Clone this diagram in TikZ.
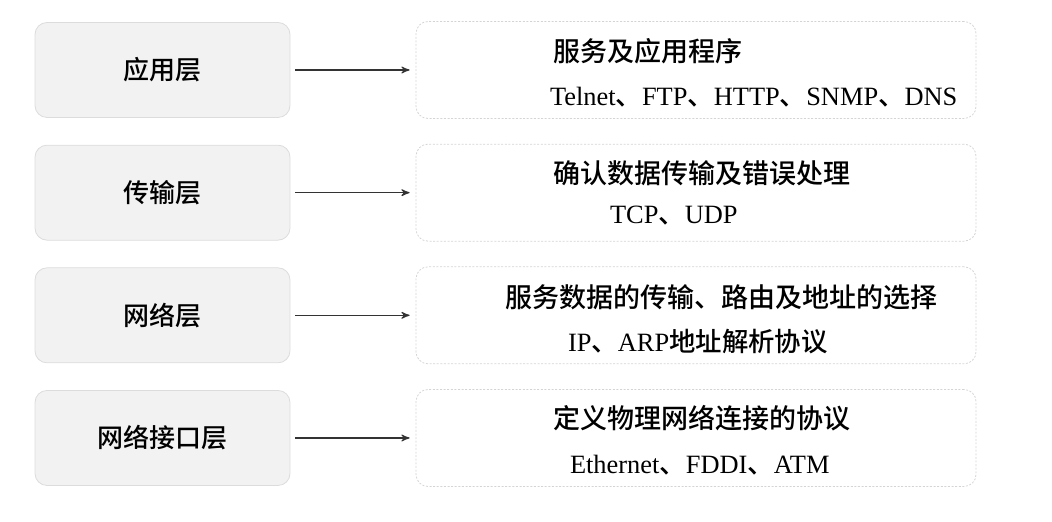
\documentclass[tikz,border=0pt]{standalone}
\usepackage{fontspec}
\setmainfont{Liberation Serif}
\newfontfamily\cjk{Noto Sans CJK SC}[UprightFont=* Medium]
\usepackage{tikz}
\usetikzlibrary{shapes,arrows}
\definecolor{layerfill}{HTML}{F2F2F2}
\definecolor{layerline}{HTML}{DCDCDC}
\definecolor{descline}{HTML}{D4D4D4}
\definecolor{arrowcol}{HTML}{333333}
\tikzset{
    layer/.style = {draw=layerline,
                    fill=layerfill,
                    rectangle,
                    rounded corners=6pt,
                    minimum height=47.5pt,
                    minimum width=127.5pt,
                    font=\fontsize{13}{15}\selectfont\cjk,
                    node distance=61.33pt
    },
    desc/.style = {draw=descline,
                   dash pattern=on 1pt off 0.8pt,
                   rectangle,
                   rounded corners=6pt,
                   minimum height=48.5pt,
                   minimum width=280pt,
                   node distance=266.75pt
    },
    title/.style = {anchor=west, inner sep=0pt,
                    font=\fontsize{13.5}{16}\selectfont\cjk},
    proto/.style = {anchor=west, inner sep=0pt,
                    font=\fontsize{13.2}{15}\selectfont},
    link/.style = {->, >=stealth', draw=arrowcol, line width=0.55pt,
                   shorten <=2.5pt, shorten >=3pt}
}

\begin{document}
\begin{tikzpicture}[auto]
    \useasboundingbox (0,0) rectangle (526pt,-261pt);
    \node [layer] at (81.25pt,-35pt) (app) {应用层};
    \node [layer,below of=app]      (trans) {传输层};
    \node [layer,below of=trans]    (net)   {网络层};
    \node [layer,below of=net]      (link)  {网络接口层};

    \node [desc,right of=app]   (appd)   {};
    \node [desc,right of=trans] (transd) {};
    \node [desc,right of=net]   (netd)   {};
    \node [desc,right of=link]  (linkd)  {};

    % what each layer does and its protocols
    \node [title] (appt) at ([xshift=68.5pt,yshift=9.5pt]appd.west) {服务及应用程序};
    \node [proto] (appp) at ([xshift=67pt,yshift=-13.5pt]appd.west) {Telnet{\cjk 、}FTP{\cjk 、}HTTP{\cjk 、}SNMP{\cjk 、}DNS};
    \node [title] (transt) at ([xshift=68.5pt,yshift=9.5pt]transd.west) {确认数据传输及错误处理};
    \node [proto] (transp) at ([xshift=97pt,yshift=-11.5pt]transd.west) {TCP{\cjk 、}UDP};
    \node [title] (nett) at ([xshift=44.5pt,yshift=9pt]netd.west) {服务数据的传输、路由及地址的选择};
    \node [proto] (netp) at ([xshift=76pt,yshift=-13pt]netd.west) {IP{\cjk 、}ARP{\cjk 地址解析协议}};
    \node [title] (linkt) at ([xshift=68.5pt,yshift=10pt]linkd.west) {定义物理网络连接的协议};
    \node [proto] (linkp) at ([xshift=77pt,yshift=-13.5pt]linkd.west) {Ethernet{\cjk 、}FDDI{\cjk 、}ATM};

    \draw[link] (app)   -- (appd);
    \draw[link] (trans) -- (transd);
    \draw[link] (net)   -- (netd);
    \draw[link] (link)  -- (linkd);
\end{tikzpicture}
\end{document}
